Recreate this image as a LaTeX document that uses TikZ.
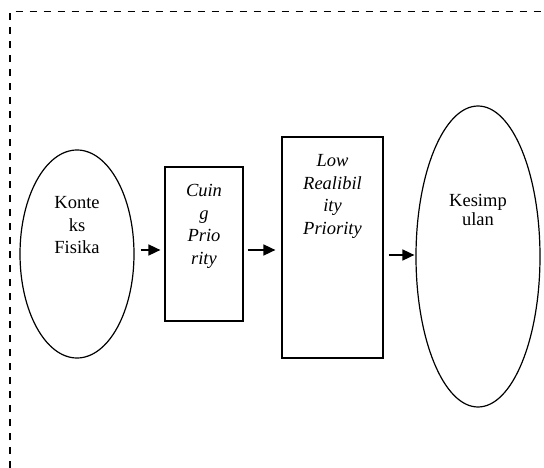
\documentclass[tikz,border=0pt]{standalone}
\usepackage{fontspec}
\setmainfont{Liberation Serif}
\usetikzlibrary{shapes.geometric,arrows.meta}

\begin{document}
\begin{tikzpicture}[x=1pt,y=-1pt,line width=1.2pt,
  elips/.style={draw=black,ellipse,inner sep=0pt},
  blok/.style={draw=black,rectangle,inner sep=0pt},
  teks/.style={inner sep=0pt,anchor=north,align=center,font=\fontsize{18.5}{22.5}\selectfont},
  miring/.style={teks,font=\fontsize{18.5}{22.5}\selectfont\itshape},
  panah/.style={-{Triangle[length=12pt,width=11pt]},line width=1.6pt}]
\useasboundingbox (0,0) rectangle (544,468);
\draw[dash pattern=on 7pt off 7pt] (10,468) -- (10,11.5) -- (544,11.5);
\node[elips,minimum width=114pt,minimum height=208pt] (konteks) at (77,254) {};
\node[blok,minimum width=78pt,minimum height=154pt] (cuing) at (204,244) {};
\node[blok,minimum width=101pt,minimum height=221pt] (low) at (332.5,247.5) {};
\node[elips,minimum width=124pt,minimum height=301pt] (kesimpulan) at (478,256.5) {};
\node[teks] (konteksT) at (77,196) {Konte\\ks\\Fisika};
\node[miring] (cuingT) at (204,184) {Cuin\\g\\Prio\\rity};
\node[miring] (lowT) at (332.5,154) {Low\\Realibil\\ity\\Priority};
\node[teks,font=\fontsize{18.5}{19}\selectfont] (kesimpulanT) at (478,194) {Kesimp\\ulan};
\draw[panah] ([xshift=6pt,yshift=4pt]konteks.east) -- ([xshift=-4pt,yshift=-6pt]cuing.west);
\draw[panah] ([xshift=4pt,yshift=-6pt]cuing.east) -- ([xshift=-6pt,yshift=-2.5pt]low.west);
\draw[panah] ([xshift=5pt,yshift=-7.5pt]low.east) -- ([xshift=-1pt,yshift=1.5pt]kesimpulan.west);
\end{tikzpicture}
\end{document}
